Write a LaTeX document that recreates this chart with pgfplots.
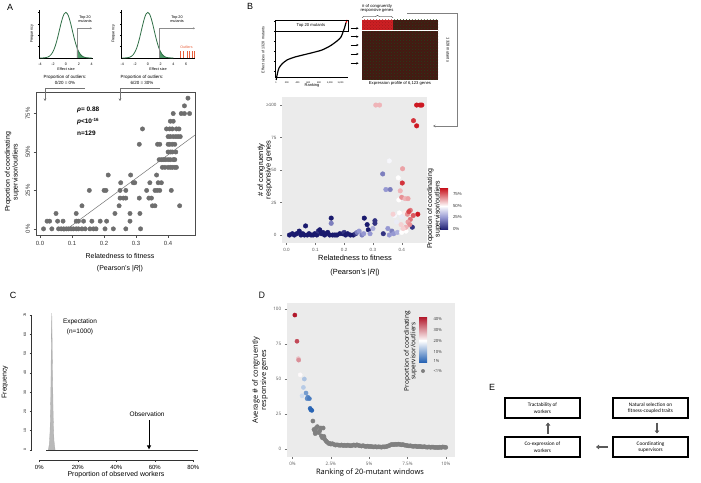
\documentclass[border=0pt]{standalone}
\usepackage{fontspec}
\setmainfont{Liberation Sans}
\newfontfamily\dfont{Open Sans}
\newfontfamily\efont{Carlito}
\usepackage{pgfplots}
\usepackage{pgfplotstable}
\pgfplotsset{compat=1.18}
\usetikzlibrary{arrows.meta,patterns,decorations.pathreplacing}
\newcommand\fs[2]{\fontsize{#1}{#2}\selectfont}
\definecolor{bggray}{HTML}{EBEBEB}
\definecolor{ptgray}{HTML}{6E6E6E}
\definecolor{normgreen}{HTML}{2E6E45}
\definecolor{tailgreen}{HTML}{4F9A6A}
\definecolor{outl}{HTML}{E8603C}
\definecolor{hmdark}{RGB}{70,24,18}
\definecolor{hmgreen}{RGB}{34,66,26}
\definecolor{hmred}{RGB}{205,32,36}
\definecolor{hmred2}{RGB}{160,24,26}

% standard normal density, read as a table
\pgfplotstableread{
x y
-4 0.0001
-3.75 0.0004
-3.5 0.0009
-3.25 0.0020
-3 0.0044
-2.75 0.0091
-2.5 0.0175
-2.25 0.0317
-2 0.0540
-1.75 0.0863
-1.5 0.1295
-1.25 0.1826
-1 0.2420
-0.75 0.3011
-0.5 0.3521
-0.25 0.3867
0 0.3989
0.25 0.3867
0.5 0.3521
0.75 0.3011
1 0.2420
1.25 0.1826
1.5 0.1295
1.75 0.0863
2 0.0540
2.25 0.0317
2.5 0.0175
2.75 0.0091
3 0.0044
3.25 0.0020
3.5 0.0009
3.75 0.0004
4 0.0001
}\normtab

\pgfplotsset{
  inset/.style={scale only axis, anchor=south west,
    axis lines=left, axis line style={-, black, line width=0.35pt},
    tick align=outside, major tick length=1.2bp,
    tick style={black, line width=0.3pt},
    ticklabel style={font=\fs{3.6}{4}},
    /pgf/number format/assume math mode=true,
    ytick={0.1,0.2,0.3,0.4}, yticklabels={},
    ymin=0, ymax=0.42, clip=false},
  gg/.style={scale only axis, anchor=south west,
    axis background/.style={fill=bggray}, axis line style={draw=none},
    tick pos=left, tick align=outside, major tick length=2bp,
    tick style={black!55, line width=0.35pt},
    ticklabel style={text=black!65}},
}

\begin{document}
\begin{tikzpicture}[x=1bp,y=-1bp]
\useasboundingbox (0,0) rectangle (701,483);

% ---------------- A: insets
\begin{axis}[inset, at={(39bp,-58bp)}, width=54bp, height=48bp,
  xmin=-4.15, xmax=4.2, xtick={-4,-2,0,2,4}]
\addplot[fill=tailgreen, draw=none] coordinates {(1.7,0)(1.7,0.094)(1.75,0.0863)(2,0.054)(2.25,0.0317)(2.5,0.0175)(2.75,0.0091)(3,0.0044)(3.5,0.0009)(4,0.0001)(4,0)} --cycle;
\addplot[normgreen, line width=0.8pt, smooth] table {\normtab};
\end{axis}
\begin{axis}[inset, at={(121bp,-58bp)}, width=74bp, height=48bp,
  xmin=-4.2, xmax=7.4, xtick={-4,-2,0,2,4,6}]
\addplot[fill=tailgreen, draw=none] coordinates {(1.8,0)(1.8,0.079)(2,0.054)(2.25,0.0317)(2.5,0.0175)(2.75,0.0091)(3,0.0044)(3.5,0.0009)(4,0.0001)(4,0)} --cycle;
\addplot[normgreen, line width=0.8pt, smooth] table {\normtab};
\addplot[ycomb, outl, line width=0.4pt] coordinates {(5.06,0.06)(5.6,0.06)(6.1,0.06)(6.5,0.06)(6.9,0.06)(7.3,0.06)};
\end{axis}

% ---------------- A: main scatter
\begin{axis}[scale only axis, anchor=south west, at={(36bp,-235bp)}, width=159bp, height=143bp,
  xmin=-0.0125, xmax=0.484, ymin=-4, ymax=89,
  xtick={0,0.1,0.2,0.3,0.4}, xticklabels={0.0,0.1,0.2,0.3,0.4},
  ytick={0,25,50,75}, yticklabels={0\%,25\%,50\%,75\%},
  y tick label style={rotate=90, anchor=south},
  ticklabel style={font=\fs{6}{6}, text=black!80},
  tick align=outside, major tick length=2.5bp, tick pos=left,
  tick style={black!70, line width=0.5pt},
  axis line style={black!70, line width=0.6pt}, clip=false]
\addplot[only marks, mark=*, mark size=2.2bp, ptgray] coordinates {
(0.011,0)(0.037,0)(0.058,0)(0.066,0)(0.074,0)(0.082,0)(0.089,0)(0.097,0)(0.104,0)(0.113,0)
(0.120,0)(0.131,0)(0.141,0)(0.156,0)(0.167,0)(0.175,0)(0.203,0)(0.229,0)(0.268,0)(0.314,0)
(0.022,5)(0.030,5)(0.055,5)(0.072,5)(0.113,5)(0.120,5)(0.136,5)(0.162,5)(0.188,5)(0.208,5)(0.281,5)
(0.050,10)(0.113,10)(0.234,10)(0.281,10)(0.312,10)
(0.131,15)(0.247,15)(0.351,15)(0.359,15)(0.436,15)
(0.250,20)(0.260,20)(0.268,20)(0.310,20)(0.340,20)(0.348,20)
(0.154,25)(0.200,25)(0.206,25)(0.250,25)(0.268,25)(0.333,25)(0.359,25)(0.366,25)(0.374,25)(0.410,25)
(0.252,30)(0.291,30)(0.296,30)(0.343,30)(0.369,30)(0.379,30)
(0.213,35)(0.283,35)(0.364,35)
(0.382,40)(0.390,40)(0.400,40)(0.407,40)(0.413,40)(0.421,40)(0.426,40)
(0.372,45)(0.379,45)(0.385,45)(0.392,45)(0.400,45)(0.407,45)(0.416,45)(0.421,45)
(0.400,50)(0.407,50)(0.413,50)(0.424,50)
(0.310,55)(0.367,55)(0.374,55)(0.400,55)(0.405,55)(0.413,55)(0.421,55)
(0.400,60)(0.407,60)(0.416,60)(0.424,60)(0.431,60)(0.438,60)
(0.320,65)(0.395,65)(0.405,65)(0.413,65)(0.426,65)(0.434,65)
(0.407,70)(0.416,70)
(0.416,75)(0.441,75)(0.451,75)(0.467,75)
(0.451,80)(0.462,85)};
\addplot[black!55, line width=0.5pt] coordinates {(0.074,-1.7)(0.484,61)};
\node[anchor=west, font=\fs{6.5}{7}\bfseries] at (axis cs:0.105,77.3) {\textit{ρ}= 0.88};
\node[anchor=west, font=\fs{6.5}{7}\bfseries] at (axis cs:0.105,69.7) {\textit{p}<10\textsuperscript{-16}};
\node[anchor=west, font=\fs{6.5}{7}\bfseries] at (axis cs:0.105,62) {n=129};
\end{axis}

% ---------------- B: inset curve
\begin{axis}[inset, at={(275bp,-77bp)}, width=73bp, height=57bp,
  xmin=-20, xmax=1340, ymin=-0.6, ymax=5.1,
  xtick={1,200,400,600,800,1000,1200}, ytick={0,1,2,3,4,5},
  ticklabel style={font=\fs{2.4}{3}}]
\addplot[black, line width=1.2pt, smooth] coordinates {
(1,-0.9)(27,-0.2)(55,0.3)(110,0.7)(204,1.1)(353,1.4)(539,1.65)(725,1.9)(856,2.1)
(1005,2.5)(1135,3.0)(1210,3.4)(1247,3.9)(1275,4.3)(1303,4.85)};
\addplot[red, line width=1.2pt] coordinates {(1303,4.85)(1328,5.1)};
\end{axis}

% ---------------- B: main scatter
\begin{axis}[gg, at={(282bp,-243bp)}, width=145bp, height=146bp,
  xmin=-0.016, xmax=0.488, ymin=-6.15, ymax=106.2,
  xtick={0,0.1,0.2,0.3,0.4}, xticklabels={0.0,0.1,0.2,0.3,0.4},
  ytick={0,25,50,75,100}, yticklabels={0,25,50,75,≥100},
  ticklabel style={font=\fs{4.6}{5}},
  colormap={bwrB}{rgb255=(26,26,110) rgb255=(150,152,210) rgb255=(255,255,255) rgb255=(205,25,35)},
  point meta min=0, point meta max=75]
\addplot[scatter, only marks, mark=*, mark size=2.3bp, point meta=explicit,
  scatter/use mapped color={draw=mapped color, fill=mapped color}] coordinates {
(0.010,0)[0] (0.020,1)[0] (0.027,0)[0] (0.035,1)[0] (0.044,3)[0] (0.050,0)[0] (0.056,1)[0]
(0.062,0)[0] (0.066,7)[0] (0.072,0)[0] (0.078,1)[0] (0.085,0)[0] (0.092,0)[0] (0.098,1)[0]
(0.105,0)[0] (0.110,3)[5] (0.115,4)[0] (0.120,1)[0] (0.126,2)[0] (0.132,0)[0] (0.137,1)[0]
(0.143,2)[0] (0.150,0)[0] (0.155,13)[0] (0.160,0)[0] (0.168,0)[0] (0.175,0)[0] (0.185,1)[0]
(0.195,1)[0] (0.200,2)[5] (0.205,0)[0] (0.212,1)[0] (0.222,0)[0] (0.232,0)[0] (0.240,1)[5]
(0.270,13)[0] (0.280,8)[0] (0.284,4)[0] (0.307,11)[5] (0.307,9)[5] (0.336,1)[5] (0.437,6)[5]
(0.155,9)[20] (0.245,2)[20] (0.252,3)[25] (0.262,0)[20] (0.268,1)[25] (0.290,1)[25]
(0.300,5)[30] (0.334,47)[20] (0.345,35)[25] (0.360,35)[20] (0.352,5)[25] (0.366,3)[20]
(0.372,1)[25] (0.385,2)[30] (0.357,0)[25]
(0.357,57)[48] (0.388,44)[50] (0.390,27)[50] (0.392,17)[50] (0.410,17)[52] (0.400,14)[45]
(0.400,2)[50] (0.382,10)[45] (0.375,15)[48] (0.370,16)[55] (0.415,3)[50] (0.398,8)[55]
(0.310,100)[58] (0.323,100)[58] (0.403,51)[60] (0.395,34)[58] (0.400,29)[62] (0.412,28)[58]
(0.422,28)[60] (0.430,19)[65] (0.420,16)[62] (0.430,12)[65] (0.422,10)[60] (0.428,8)[62]
(0.415,6)[58] (0.405,5)[55]
(0.452,100)[75] (0.464,100)[75] (0.470,100)[75] (0.441,88)[72] (0.452,84)[75] (0.402,40)[72]
(0.456,16)[75] (0.440,15)[68] (0.425,18)[70]};
\end{axis}

% ---------------- C: expectation histogram
\begin{axis}[scale only axis, anchor=south west, at={(31.6bp,-460bp)}, width=167.5bp, height=145bp,
  xmin=-4, xmax=83, ymin=-5.2, ymax=70,
  axis lines=left, axis line style={draw=none},
  xtick={0,20,40,60,80}, xticklabels={0\%,20\%,40\%,60\%,80\%},
  ytick={0,10,20,30,40,50,60,70},
  x tick label style={font=\fs{6}{6}},
  y tick label style={font=\fs{3.4}{4}, rotate=90, anchor=south},
  tick align=outside, major tick length=2bp, tick style={black!80, line width=0.5pt},
  /pgf/number format/assume math mode=true, clip=false]
\addplot[fill=gray!55, draw=gray!65, line width=0.3pt] coordinates {
(4.7,0)(5.2,3)(5.6,10)(6.0,30)(6.3,62)(6.5,71)(6.8,45)(7.2,18)(7.6,5)(8.2,0)} --cycle;
\draw[black!80, line width=0.6pt] (axis cs:3.7,0) -- (axis cs:82.5,0);
\draw[black!80, line width=0.5pt] (axis cs:0,-5.2) -- (axis cs:80,-5.2);
\draw[black!80, line width=0.5pt] (axis cs:-4,0) -- (axis cs:-4,70);
\draw[black, line width=1pt, -{Triangle[length=4bp,width=4bp]}] (axis cs:57,15.5) -- (axis cs:57,0.3);
\end{axis}

% ---------------- D: windows
\begin{axis}[gg, at={(286.7bp,-456.7bp)}, width=168.3bp, height=153.4bp,
  xmin=-0.38, xmax=10.6, ymin=-5.5, ymax=104.1,
  xtick={0,2.5,5,7.5,10}, xticklabels={0\%,2.5\%,5\%,7.5\%,10\%},
  ytick={0,25,50,75,100}, yticklabels={0,25,50,75,100},
  ticklabel style={font=\dfont\fs{4.6}{5}},
  colormap={rdbuD}{rgb255=(40,100,180) rgb255=(255,255,255) rgb255=(178,24,43)},
  point meta min=1, point meta max=40]
\addplot[only marks, mark=*, mark size=2.1bp, color=black!50] coordinates {
(1.33,20)(1.4,14)(1.45,13)(1.48,11)(1.5,12.5)(1.55,15)(1.62,16)(1.7,11.7)(1.78,13)(1.85,15)
(1.88,9.4)(1.95,8)(2.0,15)(2.05,9)(2.1,7)(2.18,5.8)(2.25,5)(2.35,4)(2.43,4)(2.5,3.5)
(2.6,3.8)(2.7,3.3)(2.8,2.8)(2.9,3.0)(3.0,2.8)(3.1,2.6)(3.2,2.9)(3.3,2.5)(3.4,2.7)(3.5,2.4)
(3.6,2.8)(3.7,2.5)(3.8,2.3)(3.9,2.6)(4.0,2.9)(4.1,2.5)(4.2,3.0)(4.3,2.6)(4.4,2.3)(4.5,2.1)
(4.6,2.4)(4.7,2.0)(4.8,1.8)(4.9,2.1)(5.0,1.7)(5.1,1.9)(5.2,1.6)(5.3,1.5)(5.4,1.7)(5.5,1.4)
(5.6,1.6)(5.7,1.5)(5.8,1.3)(5.9,1.6)(6.0,1.5)(6.1,1.7)(6.2,2.0)(6.3,2.4)(6.4,3.0)(6.5,3.3)
(6.6,3.1)(6.7,3.4)(6.8,3.2)(6.9,3.5)(7.0,3.3)(7.1,3.0)(7.2,3.2)(7.3,2.8)(7.4,2.6)(7.5,2.4)
(7.6,2.2)(7.7,2.3)(7.8,2.0)(7.9,1.9)(8.0,2.1)(8.1,1.8)(8.2,1.7)(8.3,1.9)(8.4,1.6)(8.5,1.5)
(8.6,1.7)(8.7,1.4)(8.8,1.3)(8.9,1.5)(9.0,1.2)(9.1,1.4)(9.2,1.3)(9.3,1.1)(9.4,1.2)(9.5,1.0)
(9.6,1.3)(9.7,1.1)(9.8,1.5)(9.9,1.3)(10.0,1.2)};
\addplot[scatter, only marks, mark=*, mark size=2.1bp, point meta=explicit,
  scatter/use mapped color={draw=mapped color, fill=mapped color}] coordinates {
(0.15,95.7)[40] (0.29,77)[36] (0.38,64.5)[26] (0.40,63.5)[30] (0.5,53)[21] (0.77,50)[13]
(0.71,44)[14] (0.62,38)[16] (0.88,40)[8] (1.0,37)[5] (0.95,36)[6] (1.1,36)[4]
(1.15,29)[2] (1.2,28)[1] (1.26,27.6)[1]};
\end{axis}

% ================= annotations (pixel coordinates, y down)
\node[font=\fs{9}{9}] at (10,7) {A};
\node[font=\fs{9}{9}] at (250,6) {B};
\node[font=\fs{9}{9}] at (13,295) {C};
\node[font=\dfont\fs{9}{9}] at (262,295) {D};
\node[font=\fs{9}{9}] at (492,387) {E};

% A insets text
\node[align=center, font=\fs{3.8}{4.3}] at (85,19) {Top 20\\mutants};
\draw[black!45, line width=0.4pt] (76.7,58) -- (76.7,28.3);
\draw[black!45, line width=0.4pt, -{Stealth[length=2bp,width=2bp]}] (76.7,28.3) -- (92,28.3);
\node[align=center, font=\fs{3.8}{4.3}] at (177,19) {Top 20\\mutants};
\draw[black!45, line width=0.4pt] (159.3,58) -- (159.3,28.3);
\draw[black!45, line width=0.4pt, -{Stealth[length=2bp,width=2bp]}] (159.3,28.3) -- (195,28.3);
\node[font=\fs{3.6}{4}, text=outl] at (186.5,47.5) {Outliers};
\node[rotate=90, font=\fs{3.8}{4}] at (32,34) {Frequency};
\node[rotate=90, font=\fs{3.8}{4}] at (113.5,34) {Frequency};
\node[font=\fs{3.8}{4}] at (66,69) {Effect size};
\node[font=\fs{3.8}{4}] at (158,69) {Effect size};
\node[align=center, font=\fs{4.5}{5.3}] at (65,80) {Proportion of outliers:\\0/20 = 0\%};
\node[align=center, font=\fs{4.5}{5.3}] at (142,80) {Proportion of outliers:\\6/20 = 30\%};
\draw[black!55, line width=0.4pt, -{Stealth[length=2.5bp,width=2.5bp]}] (85,88) -- (45,88) -- (45,101);
\draw[black!55, line width=0.4pt, -{Stealth[length=2.5bp,width=2.5bp]}] (160,88) -- (120,88) -- (120,101);
\node[rotate=90, align=center, font=\fs{7}{7.8}] at (12,172) {Proportion of coordinating\\supervisor/outliers};
\node[font=\fs{7}{7}] at (120,256) {Relatedness to fitness};
\node[font=\fs{7}{7}] at (120,268.5) {(Pearson's |\textit{R}|)};

% B inset and heatmap
\draw[black, line width=0.5pt] (275,20) rectangle (348,31);
\node[font=\fs{4.2}{4.5}] at (311,25.5) {Top 20 mutants};
\node[rotate=90, font=\fs{3.7}{4}] at (263,50) {Effect sizes of 1328 mutants};
\node[font=\fs{4}{4}] at (312,85.5) {Ranking};
\foreach \yy in {28.3,36.7,45,54,63.3}
  \draw[black, line width=0.6pt, -{Stealth[length=2.2bp,width=2.4bp]}] (350.5,\yy) -- (358.5,\yy);
\fill[hmdark] (362,31) rectangle (438,80);
\fill[pattern=crosshatch dots, pattern color=hmgreen] (362,31) rectangle (438,80);
\fill[hmdark] (393,20) rectangle (438,31);
\fill[pattern=crosshatch dots, pattern color=hmgreen] (393,20) rectangle (438,31);
\fill[hmred] (362,20) rectangle (393,31);
\fill[pattern=crosshatch dots, pattern color=hmred2] (362,20) rectangle (393,31);
\draw[white, line width=1pt] (362,31) -- (438,31);
\node[align=center, font=\fs{4.2}{4.8}] at (377,8.5) {\# of congruently\\responsive genes};
\draw[black, line width=0.4pt, decorate, decoration={brace, amplitude=2bp}] (362,17.5) -- (393,17.5);
\node[font=\fs{4.2}{4.5}] at (400,83) {Expression profile of 6,123 genes};
\node[rotate=-90, font=\fs{4}{4}] at (448,50) {1328 mutants};
\draw[black!50, line width=0.5pt, -{Stealth[length=2.5bp,width=2.5bp]}] (407,13.3) -- (457,13.3) -- (457,126) -- (433,126);

% B main labels and colour bar
\node[rotate=90, align=center, font=\fs{7.5}{7.5}] at (265,170) {\# of congruently\\responsive genes};
\node[font=\fs{7.5}{7.5}] at (355,258) {Relatedness to fitness};
\node[font=\fs{7.5}{7.5}] at (355,273) {(Pearson's |\textit{R}|)};
\shade[top color={rgb,255:red,150;green,152;blue,210}, bottom color={rgb,255:red,26;green,26;blue,110}] (440,217.3) rectangle (448,230);
\shade[top color=white, bottom color={rgb,255:red,150;green,152;blue,210}] (440,206) rectangle (448,217.3);
\shade[top color={rgb,255:red,200;green,20;blue,30}, bottom color=white] (440,188.3) rectangle (448,206);
\foreach \yy/\tt in {194/75\%,206/50\%,217.3/25\%,229.3/0\%}
  \node[anchor=west, font=\fs{4.4}{5}, text=black!80] at (449.5,\yy) {\tt};
\node[rotate=90, align=center, font=\fs{7}{5.6}] at (434,209) {Proportion of coordinating\\supervisor/outliers};

% C labels
\node[align=center, font=\fs{6.5}{10}] at (80,327) {Expectation\\(n=1000)};
\node[font=\fs{6.5}{7}] at (147,414) {Observation};
\node[rotate=90, font=\fs{7}{7}] at (5,382) {Frequency};
\node[font=\fs{7}{7}] at (116,475) {Proportion of observed workers};

% D labels and colour bar
\node[rotate=90, align=center, font=\dfont\fs{7.5}{7.3}] at (260,380) {Average \# of congruently\\responsive genes};
\node[font=\dfont\fs{7.5}{7.5}] at (370,473) {Ranking of 20-mutant windows};
\shade[top color={rgb,255:red,178;green,24;blue,43}, bottom color=white] (419,317) rectangle (427,340.7);
\shade[top color=white, bottom color={rgb,255:red,40;green,100;blue,180}] (419,340.7) rectangle (427,362);
\foreach \yy/\tt in {319.3/40\%,330/30\%,340.7/20\%,351.7/10\%,361/1\%}
  \node[anchor=west, font=\dfont\fs{4.2}{5}, text=black!80] at (430,\yy) {\tt};
\fill[black!50] (423,371) circle (2bp);
\node[anchor=west, font=\dfont\fs{4.2}{5}, text=black!80] at (430,371) {<1\%};
\node[rotate=90, align=center, font=\dfont\fs{6.5}{6.5}] at (410.5,351) {Proportion of coordinating\\supervisor/outliers};

% E: diagram
\foreach \xx/\yy/\tt in {505/398/{Tractability of\\workers}, 613/398/{Natural selection on\\fitness-coupled traits},
   505/437/{Co-expression of\\workers}, 613/437/{Coordinating\\supervisors}} {
  \draw[black, line width=1.3pt] (\xx,\yy) rectangle ++(75,20);
  \node[align=center, font=\efont\fs{5.3}{6.6}] at (\xx+37.5,\yy+10) {\tt};
}
\draw[black!65, line width=2.2bp, -{Triangle[length=3bp,width=4.5bp]}] (548,433.5) -- (548,422.5);
\draw[black!65, line width=2.2bp, -{Triangle[length=3bp,width=4.5bp]}] (657,422.5) -- (657,433.5);
\draw[black!65, line width=2.2bp, -{Triangle[length=3bp,width=4.5bp]}] (608,447) -- (596,447);
\end{tikzpicture}
\end{document}
